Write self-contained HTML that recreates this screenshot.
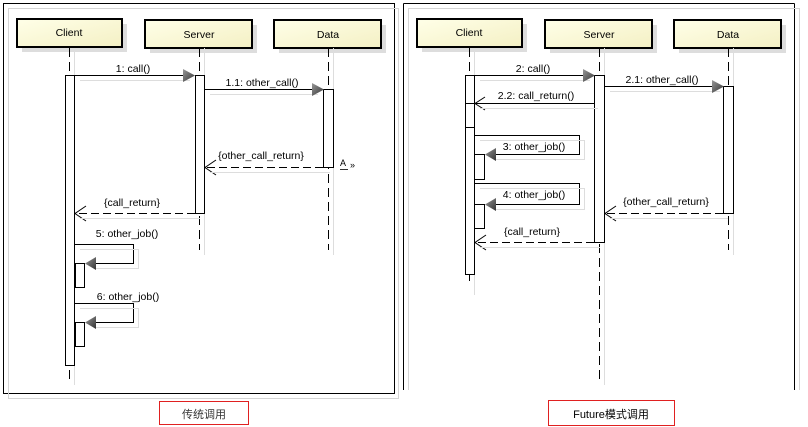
<!DOCTYPE html>
<html><head><meta charset="utf-8"><style>
html,body{margin:0;padding:0;background:#fff;width:808px;height:427px;overflow:hidden}
text{font-family:"Liberation Sans","Noto Sans CJK SC",sans-serif;font-size:10.5px;fill:#000}
</style></head><body>
<svg width="808" height="427" viewBox="0 0 808 427" xmlns="http://www.w3.org/2000/svg">
<defs>
<linearGradient id="g" x1="0" y1="0" x2="1" y2="1"><stop offset="0" stop-color="#ffffe8"/><stop offset="1" stop-color="#f4f0c4"/></linearGradient>
<linearGradient id="t" x1="0" y1="0" x2="1" y2="1"><stop offset="0" stop-color="#999"/><stop offset="1" stop-color="#333"/></linearGradient>
</defs>
<!-- frames -->
<rect x="3.5" y="3.5" width="391" height="390" fill="none" stroke="#000"/>
<rect x="8.5" y="8.5" width="390" height="390" fill="none" stroke="#d4d4d4"/>
<path d="M403.5 3.5 V390 M794.5 3.5 V390 M403.5 3.5 H794.5" fill="none" stroke="#000"/>
<path d="M408.5 390 V8.5 H799.5 V390" fill="none" stroke="#d4d4d4"/>

<g id="heads">
</g>
<!-- left lifeline boxes -->
<g stroke-width="2">
<rect x="22" y="24" width="105" height="28" fill="#ddd" stroke="none"/>
<rect x="17" y="19" width="105" height="28" fill="url(#g)" stroke="#000"/>
<rect x="150" y="25" width="107" height="28" fill="#ddd" stroke="none"/>
<rect x="145" y="20" width="107" height="28" fill="url(#g)" stroke="#000"/>
<rect x="279" y="25" width="107" height="28" fill="#ddd" stroke="none"/>
<rect x="274" y="20" width="107" height="28" fill="url(#g)" stroke="#000"/>
<rect x="422" y="24" width="105" height="28" fill="#ddd" stroke="none"/>
<rect x="417" y="19" width="105" height="28" fill="url(#g)" stroke="#000"/>
<rect x="550" y="25" width="107" height="28" fill="#ddd" stroke="none"/>
<rect x="545" y="20" width="107" height="28" fill="url(#g)" stroke="#000"/>
<rect x="679" y="25" width="107" height="28" fill="#ddd" stroke="none"/>
<rect x="674" y="20" width="107" height="28" fill="url(#g)" stroke="#000"/>
</g>
<g text-anchor="middle">
<text x="69" y="36">Client</text><text x="199" y="38">Server</text><text x="328" y="38">Data</text>
<text x="469" y="36">Client</text><text x="599" y="38">Server</text><text x="728" y="38">Data</text>
</g>
<!-- lifelines -->
<g stroke="#000" stroke-dasharray="9,5" fill="none">
<path d="M69.5 48 V380 M199.5 48 V250 M328.5 48 V250"/>
<path d="M469.5 48 V285 M599.5 48 V380 M728.5 48 V250"/>
</g>
<g stroke="#ddd" fill="none">
<path d="M74.5 48 V385 M204.5 48 V255 M333.5 48 V255 M474.5 48 V295 M604.5 48 V385 M733.5 48 V255"/>
</g>
<!-- activations left -->
<g fill="#fff" stroke="#000">
<rect x="65.5" y="75.5" width="9" height="290"/>
<rect x="195.5" y="75.5" width="9" height="138"/>
<rect x="323.5" y="89.5" width="10" height="78"/>
<rect x="75.5" y="263.5" width="9" height="24"/>
<rect x="75.5" y="322.5" width="9" height="24"/>
<rect x="465.5" y="75.5" width="9" height="199"/>
<rect x="465.5" y="103.5" width="9" height="24"/>
<rect x="594.5" y="75.5" width="10" height="167"/>
<rect x="723.5" y="86.5" width="10" height="127"/>
<rect x="474.5" y="154.5" width="10" height="25"/>
<rect x="474.5" y="204.5" width="10" height="24"/>
</g>
<!-- messages -->
<g stroke="#000" fill="none">
<path d="M74 75.5 H185"/><path d="M204 89.5 H313"/>
<path d="M75 244.5 H133.5 V263.5 H94"/><path d="M75 303.5 H133.5 V322.5 H94"/>
<path d="M474 75.5 H584"/><path d="M604 86.5 H713"/>
<path d="M594 103.5 H475 M485 97 L475 103.5 L485 110"/>
<path d="M474 135.5 H579.5 V154.5 H494"/><path d="M474 183.5 H579.5 V204.5 H494"/>
<g stroke-dasharray="8,4">
<path d="M323 167.5 H205"/><path d="M195 213.5 H75"/>
<path d="M723 213.5 H605"/><path d="M594 242.5 H475"/>
</g>
<path d="M216 160 L205 167.5 L216 175 M86 206 L75 213.5 L86 221 M616 206 L605 213.5 L616 221 M486 235 L475 242.5 L486 250"/>
</g>
<g stroke="#ddd" fill="none">
<path d="M80 80.5 H190 M210 94.5 H318 M210 172.5 H330 M80 218.5 H200 M480 80.5 H590 M610 91.5 H720 M480 108.5 H598 M610 218.5 H728 M480 247.5 H600"/>
<path d="M80 249.5 H138.5 V268.5 H95 M80 308.5 H138.5 V327.5 H95 M480 140.5 H584.5 V159.5 H495 M480 188.5 H584.5 V209.5 H495"/>
</g>
<g fill="url(#t)">
<path d="M183 69 L195 75.5 L183 82 Z"/><path d="M312 83 L324 89.5 L312 96 Z"/>
<path d="M583 69 L595 75.5 L583 82 Z"/><path d="M712 80 L724 86.5 L712 93 Z"/>
<path d="M96 257 L85 263.5 L96 270 Z"/><path d="M96 316 L85 322.5 L96 329 Z"/>
<path d="M496 148 L485 154.5 L496 161 Z"/><path d="M496 198 L485 204.5 L496 211 Z"/>
</g>
<!-- labels -->
<g text-anchor="middle">
<text x="133" y="72">1: call()</text><text x="262" y="86">1.1: other_call()</text>
<text x="261" y="159">{other_call_return}</text><text x="132" y="206">{call_return}</text>
<text x="127" y="237">5: other_job()</text><text x="128" y="300">6: other_job()</text>
<text x="533" y="72">2: call()</text><text x="662" y="83">2.1: other_call()</text>
<text x="536" y="99">2.2: call_return()</text>
<text x="534" y="150">3: other_job()</text><text x="534" y="198">4: other_job()</text>
<text x="666" y="205">{other_call_return}</text><text x="532" y="235">{call_return}</text>
</g>
<text x="340" y="166" style="font-size:9px">A</text>
<path d="M340 169.5 H348" stroke="#333"/>
<text x="350" y="168" style="font-size:9px">»</text>
<!-- captions -->
<rect x="159.5" y="401.5" width="89" height="23" fill="#fff" stroke="#e02020"/>
<text x="204" y="418" text-anchor="middle" style="font-size:11px;fill:#333">传统调用</text>
<rect x="548.5" y="400.5" width="126" height="25" fill="#fff" stroke="#e02020"/>
<text x="611" y="418" text-anchor="middle" style="font-size:11px">Future模式调用</text>
</svg>
</body></html>
